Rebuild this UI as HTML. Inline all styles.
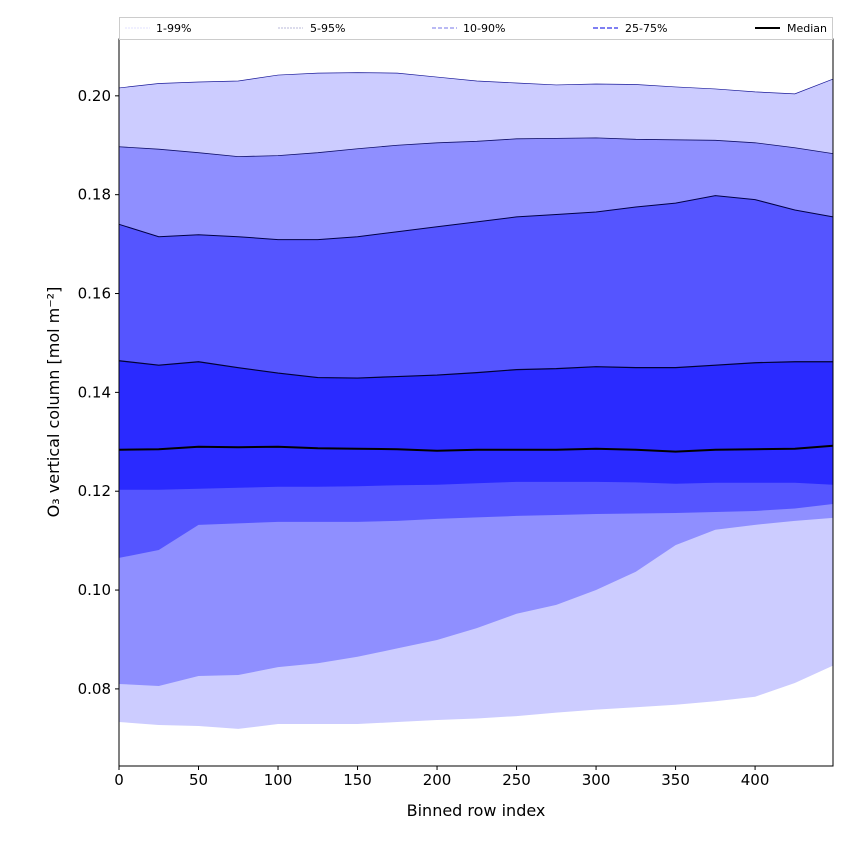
<!DOCTYPE html>
<html><head><meta charset="utf-8"><style>
body{margin:0;background:#fff;font-family:"Liberation Sans","DejaVu Sans",sans-serif}
svg text{font-family:"DejaVu Sans","Liberation Sans",sans-serif}
</style></head><body>
<svg id="chart" width="850" height="850" viewBox="0 0 850 850" xmlns="http://www.w3.org/2000/svg">
<rect width="850" height="850" fill="#fff"/>
<g id="bands"></g>
<g id="axes"></g>
<g id="legend">
<rect x="119.5" y="17.5" width="713" height="22" fill="#fff" stroke="#ccc"/>
<line x1="125" y1="28" x2="150" y2="28" stroke="#e0e0ff" stroke-width="1" stroke-dasharray="2,1"/><text x="156" y="32" font-size="11">1-99%</text>
<line x1="278" y1="28" x2="303" y2="28" stroke="#b8b8d8" stroke-width="1" stroke-dasharray="2,1"/><text x="310" y="32" font-size="11">5-95%</text>
<line x1="432" y1="28" x2="457" y2="28" stroke="#9090ee" stroke-width="1.2" stroke-dasharray="4,2"/><text x="463" y="32" font-size="11">10-90%</text>
<line x1="593" y1="28" x2="618" y2="28" stroke="#5555ee" stroke-width="1.5" stroke-dasharray="5,2"/><text x="625" y="32" font-size="11">25-75%</text>
<line x1="755" y1="28" x2="780" y2="28" stroke="#000" stroke-width="2"/><text x="787" y="32" font-size="11">Median</text>
</g>
</svg>
<script>
const xs=[0,25,50,75,100,125,150,175,200,225,250,275,300,325,350,375,400,425,449];
const p99=[.2016,.2025,.2028,.2030,.2042,.2046,.2047,.2046,.2038,.2030,.2026,.2022,.2024,.2023,.2018,.2014,.2008,.2004,.2034];
const p95=[.1897,.1892,.1885,.1877,.1879,.1885,.1893,.1900,.1905,.1908,.1913,.1914,.1915,.1912,.1911,.1910,.1905,.1895,.1883];
const p90=[.1740,.1715,.1719,.1715,.1709,.1709,.1715,.1725,.1735,.1745,.1755,.1760,.1765,.1775,.1783,.1798,.1790,.1769,.1755];
const p75=[.1464,.1455,.1462,.1450,.1439,.1430,.1429,.1432,.1435,.1440,.1446,.1448,.1452,.1450,.1450,.1455,.1460,.1462,.1462];
const med=[.1284,.1285,.1290,.1289,.1290,.1287,.1286,.1285,.1282,.1284,.1284,.1284,.1286,.1284,.1280,.1284,.1285,.1286,.1292];
const p25=[.1203,.1203,.1205,.1207,.1209,.1209,.1210,.1212,.1213,.1216,.1219,.1219,.1219,.1218,.1215,.1217,.1217,.1217,.1213];
const p10=[.1065,.1081,.1132,.1135,.1138,.1138,.1138,.1140,.1144,.1147,.1150,.1152,.1154,.1155,.1156,.1158,.1160,.1165,.1174];
const p5=[.0810,.0806,.0826,.0828,.0844,.0852,.0865,.0882,.0899,.0923,.0952,.0970,.1000,.1037,.1091,.1122,.1132,.1140,.1146];
const p1=[.0733,.0727,.0725,.0719,.0729,.0729,.0729,.0733,.0737,.0740,.0745,.0752,.0758,.0763,.0768,.0775,.0784,.0812,.0847];
const xTicks=[0,50,100,150,200,250,300,350,400];
const yTicks=[0.08,0.10,0.12,0.14,0.16,0.18,0.20];
const L=119,R=833,T=39,B=766;
const xMin=0,xMax=449,yMin=0.0644,yMax=0.2115;
function X(v){return L+(v-xMin)/(xMax-xMin)*(R-L);}
function Y(v){return B-(v-yMin)/(yMax-yMin)*(B-T);}
const NS="http://www.w3.org/2000/svg";
const bands=document.getElementById('bands'),axes=document.getElementById('axes');
function mk(tag,attrs,parent){const e=document.createElementNS(NS,tag);for(const k in attrs)e.setAttribute(k,attrs[k]);parent.appendChild(e);return e;}
function pts(a){return xs.map((x,i)=>X(x).toFixed(2)+','+Y(a[i]).toFixed(2));}
function band(lo,hi,fill,name){
  const d='M'+pts(hi).join('L')+'L'+pts(lo).reverse().join('L')+'Z';
  const p=mk('path',{d:d,fill:fill},bands);
  
  
}
function line(a,stroke,w,name){
  const p=mk('path',{d:'M'+pts(a).join('L'),fill:'none',stroke:stroke,'stroke-width':w},bands);
  
  
}
band(p1,p99,'#ccccff','band-1-99');
band(p5,p95,'#8f8fff','band-5-95');
band(p10,p90,'#5555ff','band-10-90');
band(p25,p75,'#2a2aff','band-25-75');
line(p99,'#1a1a99',0.7,'line-p99');
line(p95,'#10106a',0.8,'line-p95');
line(p90,'#000044',1,'line-p90');
line(p75,'#000033',1.2,'line-p75');
line(med,'#000',2,'median-line');
// frame
const fr=mk('rect',{x:L,y:T,width:R-L,height:B-T,fill:'none',stroke:'#000','stroke-width':1},axes);


xTicks.forEach(t=>{
  const x=X(t);
  mk('line',{x1:x,y1:B,x2:x,y2:B+4,stroke:'#000'},axes);
  const tx=mk('text',{x:x,y:B+19,'font-size':15,'text-anchor':'middle'},axes);
  tx.textContent=t;
  
  
});
yTicks.forEach(t=>{
  const y=Y(t);
  mk('line',{x1:L-4,y1:y,x2:L,y2:y,stroke:'#000'},axes);
  const tx=mk('text',{x:L-8,y:y+5,'font-size':15,'text-anchor':'end'},axes);
  tx.textContent=t.toFixed(2);
  
  
});
const xt=mk('text',{x:(L+R)/2,y:816,'font-size':16,'text-anchor':'middle'},axes);
xt.textContent='Binned row index';


const yt=mk('text',{x:0,y:0,'font-size':16,'text-anchor':'middle',transform:'translate(59,402) rotate(-90)'},axes);
yt.textContent='O₃ vertical column [mol m⁻²]';


</script>
</body></html>
